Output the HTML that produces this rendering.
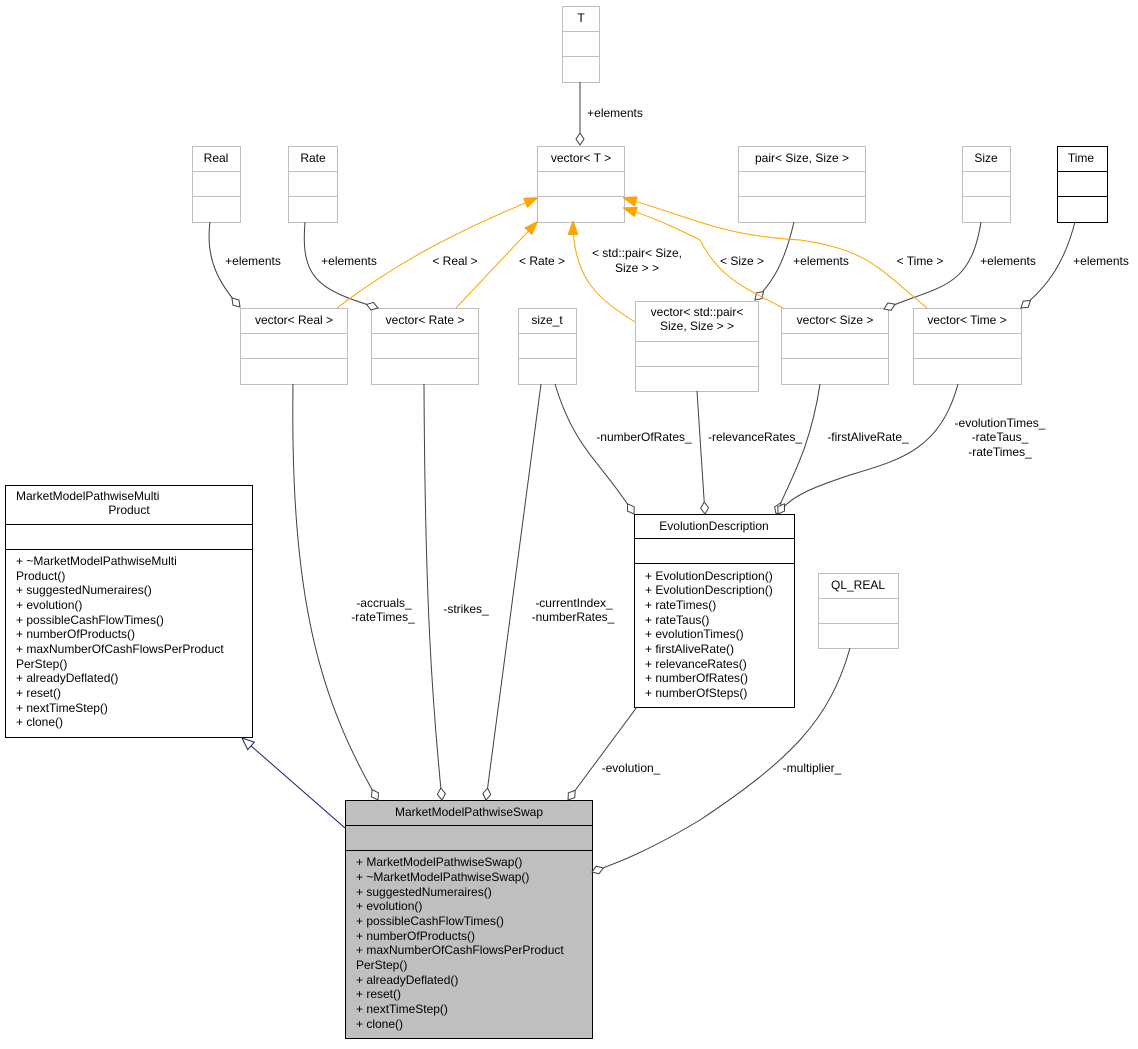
<!DOCTYPE html>
<html><head><meta charset="utf-8"><style>
html,body{margin:0;padding:0;background:#fff}
svg text{font-family:"Liberation Sans",Arial,sans-serif;font-size:12px;fill:#000}
</style></head><body>
<svg width="1138" height="1044" viewBox="0 0 1138 1044" xmlns="http://www.w3.org/2000/svg">
<defs>
<marker id="ao" markerWidth="14" markerHeight="10" refX="13" refY="5" orient="auto" markerUnits="userSpaceOnUse"><polygon points="0,0 14,5 0,10" fill="#ffa500" stroke="#ffa500"/></marker>
<marker id="dm" markerWidth="14" markerHeight="10" refX="13" refY="5" orient="auto" markerUnits="userSpaceOnUse"><polygon points="1,5 7,1 13,5 7,9" fill="#fff" stroke="#404040"/></marker>
<marker id="tri" markerWidth="14" markerHeight="12" refX="13" refY="6" orient="auto" markerUnits="userSpaceOnUse"><polygon points="1,1 13,6 1,11" fill="#fff" stroke="#191970"/></marker>
</defs>

<!-- grey boxes -->
<g fill="#fff" stroke="#bfbfbf" stroke-width="1">
<rect x="562.5" y="6.5" width="37" height="76"/><line x1="562" y1="31.5" x2="600" y2="31.5"/><line x1="562" y1="56.5" x2="600" y2="56.5"/>
<rect x="537.5" y="146.5" width="87" height="76"/><line x1="537" y1="171.5" x2="625" y2="171.5"/><line x1="537" y1="196.5" x2="625" y2="196.5"/>
<rect x="192.5" y="146.5" width="48" height="76"/><line x1="192" y1="171.5" x2="241" y2="171.5"/><line x1="192" y1="196.5" x2="241" y2="196.5"/>
<rect x="288.5" y="146.5" width="49" height="76"/><line x1="288" y1="171.5" x2="338" y2="171.5"/><line x1="288" y1="196.5" x2="338" y2="196.5"/>
<rect x="738.5" y="146.5" width="127" height="76"/><line x1="738" y1="171.5" x2="866" y2="171.5"/><line x1="738" y1="196.5" x2="866" y2="196.5"/>
<rect x="962.5" y="146.5" width="48" height="76"/><line x1="962" y1="171.5" x2="1011" y2="171.5"/><line x1="962" y1="196.5" x2="1011" y2="196.5"/>
<rect x="240.5" y="308.5" width="107" height="76"/><line x1="240" y1="333.5" x2="348" y2="333.5"/><line x1="240" y1="358.5" x2="348" y2="358.5"/>
<rect x="371.5" y="308.5" width="107" height="76"/><line x1="371" y1="333.5" x2="479" y2="333.5"/><line x1="371" y1="358.5" x2="479" y2="358.5"/>
<rect x="518.5" y="308.5" width="58" height="76"/><line x1="518" y1="333.5" x2="577" y2="333.5"/><line x1="518" y1="358.5" x2="577" y2="358.5"/>
<rect x="635.5" y="301.5" width="123" height="90"/><line x1="635" y1="341.5" x2="759" y2="341.5"/><line x1="635" y1="366.5" x2="759" y2="366.5"/>
<rect x="781.5" y="308.5" width="107" height="76"/><line x1="781" y1="333.5" x2="889" y2="333.5"/><line x1="781" y1="358.5" x2="889" y2="358.5"/>
<rect x="913.5" y="308.5" width="108" height="76"/><line x1="913" y1="333.5" x2="1022" y2="333.5"/><line x1="913" y1="358.5" x2="1022" y2="358.5"/>
<rect x="818.5" y="573.5" width="80" height="75"/><line x1="818" y1="598.5" x2="899" y2="598.5"/><line x1="818" y1="623.5" x2="899" y2="623.5"/>
</g>
<!-- black boxes -->
<g fill="#fff" stroke="#000" stroke-width="1">
<rect x="1057.5" y="146.5" width="50" height="76"/><line x1="1057" y1="171.5" x2="1108" y2="171.5"/><line x1="1057" y1="196.5" x2="1108" y2="196.5"/>
<rect x="5.5" y="485.5" width="247" height="252"/><line x1="5" y1="524.5" x2="253" y2="524.5"/><line x1="5" y1="549.5" x2="253" y2="549.5"/>
<rect x="634.5" y="514.5" width="160" height="193"/><line x1="634" y1="538.5" x2="795" y2="538.5"/><line x1="634" y1="563.5" x2="795" y2="563.5"/>
<rect x="345.5" y="800.5" width="247" height="238" fill="#bfbfbf"/><line x1="345" y1="825.5" x2="593" y2="825.5"/><line x1="345" y1="850.5" x2="593" y2="850.5"/>
</g>

<!-- connectors -->
<g fill="none" stroke="#404040" stroke-width="1">
<path d="M580,82 L580,145" marker-end="url(#dm)"/>
<path d="M210,222 C205,260 220,285 240,307" marker-end="url(#dm)"/>
<path d="M305,222 C300,280 320,290 378,308" marker-end="url(#dm)"/>
<path d="M794,222 C785,260 775,280 755,300" marker-end="url(#dm)"/>
<path d="M981,222 C970,290 940,285 884,309" marker-end="url(#dm)"/>
<path d="M1075,222 C1065,260 1050,285 1021,308" marker-end="url(#dm)"/>
<path d="M555,384 C575,450 600,460 634,514" marker-end="url(#dm)"/>
<path d="M697,391 L705,514" marker-end="url(#dm)"/>
<path d="M820,384 C810,450 790,480 776,514" marker-end="url(#dm)"/>
<path d="M958,384 C940,450 900,460 850,475 C820,485 790,495 778,514" marker-end="url(#dm)"/>
<path d="M293,384 C290,600 320,700 378,800" marker-end="url(#dm)"/>
<path d="M424,384 C425,600 432,700 442,800" marker-end="url(#dm)"/>
<path d="M541,384 L486,800" marker-end="url(#dm)"/>
<path d="M637,707 L568,800" marker-end="url(#dm)"/>
<path d="M850,648 C830,720 790,760 700,820 C650,850 620,862 592,872" marker-end="url(#dm)"/>
</g>
<path d="M345,828 L242,738" fill="none" stroke="#191970" marker-end="url(#tri)"/>
<g fill="none" stroke="#ffa500" stroke-width="1">
<path d="M337,308 C400,260 460,230 537,198" marker-end="url(#ao)"/>
<path d="M456,308 L537,222" marker-end="url(#ao)"/>
<path d="M635,322 C600,300 573,280 573,222" marker-end="url(#ao)"/>
<path d="M783,308 C750,290 720,280 700,240 C680,230 660,220 624,208" marker-end="url(#ao)"/>
<path d="M927,308 C880,270 870,250 800,240 C720,235 700,220 624,198" marker-end="url(#ao)"/>
</g>

<!-- box text -->
<g text-anchor="middle">
<text x="581" y="22">T</text>
<text x="581" y="162">vector&lt; T &gt;</text>
<text x="216" y="162">Real</text>
<text x="313" y="162">Rate</text>
<text x="802" y="162">pair&lt; Size, Size &gt;</text>
<text x="986" y="162">Size</text>
<text x="1081" y="162">Time</text>
<text x="294" y="324">vector&lt; Real &gt;</text>
<text x="425" y="324">vector&lt; Rate &gt;</text>
<text x="547" y="324">size_t</text>
<text x="697" y="316">vector&lt; std::pair&lt;</text>
<text x="697" y="330">Size, Size &gt; &gt;</text>
<text x="835" y="324">vector&lt; Size &gt;</text>
<text x="967" y="324">vector&lt; Time &gt;</text>
<text x="858" y="589">QL_REAL</text>
<text x="714" y="530">EvolutionDescription</text>
<text x="469" y="816">MarketModelPathwiseSwap</text>
<text x="129" y="514">Product</text>
</g>
<text x="16" y="500">MarketModelPathwiseMulti</text>

<g>
<text x="16" y="565">+ ~MarketModelPathwiseMulti</text>
<text x="16" y="580">Product()</text>
<text x="16" y="594">+ suggestedNumeraires()</text>
<text x="16" y="609">+ evolution()</text>
<text x="16" y="624">+ possibleCashFlowTimes()</text>
<text x="16" y="638">+ numberOfProducts()</text>
<text x="16" y="653">+ maxNumberOfCashFlowsPerProduct</text>
<text x="16" y="668">PerStep()</text>
<text x="16" y="682">+ alreadyDeflated()</text>
<text x="16" y="697">+ reset()</text>
<text x="16" y="712">+ nextTimeStep()</text>
<text x="16" y="726">+ clone()</text>
</g>
<g>
<text x="645" y="580">+ EvolutionDescription()</text>
<text x="645" y="594">+ EvolutionDescription()</text>
<text x="645" y="609">+ rateTimes()</text>
<text x="645" y="624">+ rateTaus()</text>
<text x="645" y="638">+ evolutionTimes()</text>
<text x="645" y="653">+ firstAliveRate()</text>
<text x="645" y="668">+ relevanceRates()</text>
<text x="645" y="682">+ numberOfRates()</text>
<text x="645" y="697">+ numberOfSteps()</text>
</g>
<g>
<text x="356" y="866">+ MarketModelPathwiseSwap()</text>
<text x="356" y="881">+ ~MarketModelPathwiseSwap()</text>
<text x="356" y="896">+ suggestedNumeraires()</text>
<text x="356" y="910">+ evolution()</text>
<text x="356" y="925">+ possibleCashFlowTimes()</text>
<text x="356" y="940">+ numberOfProducts()</text>
<text x="356" y="954">+ maxNumberOfCashFlowsPerProduct</text>
<text x="356" y="969">PerStep()</text>
<text x="356" y="984">+ alreadyDeflated()</text>
<text x="356" y="998">+ reset()</text>
<text x="356" y="1013">+ nextTimeStep()</text>
<text x="356" y="1028">+ clone()</text>
</g>

<!-- edge labels -->
<g text-anchor="middle">
<text x="615" y="117">+elements</text>
<text x="253" y="265">+elements</text>
<text x="349" y="265">+elements</text>
<text x="821" y="265">+elements</text>
<text x="1008" y="265">+elements</text>
<text x="1101" y="265">+elements</text>
<text x="455" y="265">&lt; Real &gt;</text>
<text x="542" y="265">&lt; Rate &gt;</text>
<text x="637" y="257">&lt; std::pair&lt; Size,</text>
<text x="637" y="272">Size &gt; &gt;</text>
<text x="742" y="265">&lt; Size &gt;</text>
<text x="920" y="265">&lt; Time &gt;</text>
<text x="644" y="441">-numberOfRates_</text>
<text x="755" y="441">-relevanceRates_</text>
<text x="868" y="441">-firstAliveRate_</text>
<text x="1000" y="427">-evolutionTimes_</text>
<text x="1000" y="441">-rateTaus_</text>
<text x="1000" y="456">-rateTimes_</text>
<text x="384" y="607">-accruals_</text>
<text x="383" y="621">-rateTimes_</text>
<text x="466" y="613">-strikes_</text>
<text x="574" y="607">-currentIndex_</text>
<text x="573" y="621">-numberRates_</text>
<text x="631" y="772">-evolution_</text>
<text x="812" y="772">-multiplier_</text>
</g>
</svg>
</body></html>
